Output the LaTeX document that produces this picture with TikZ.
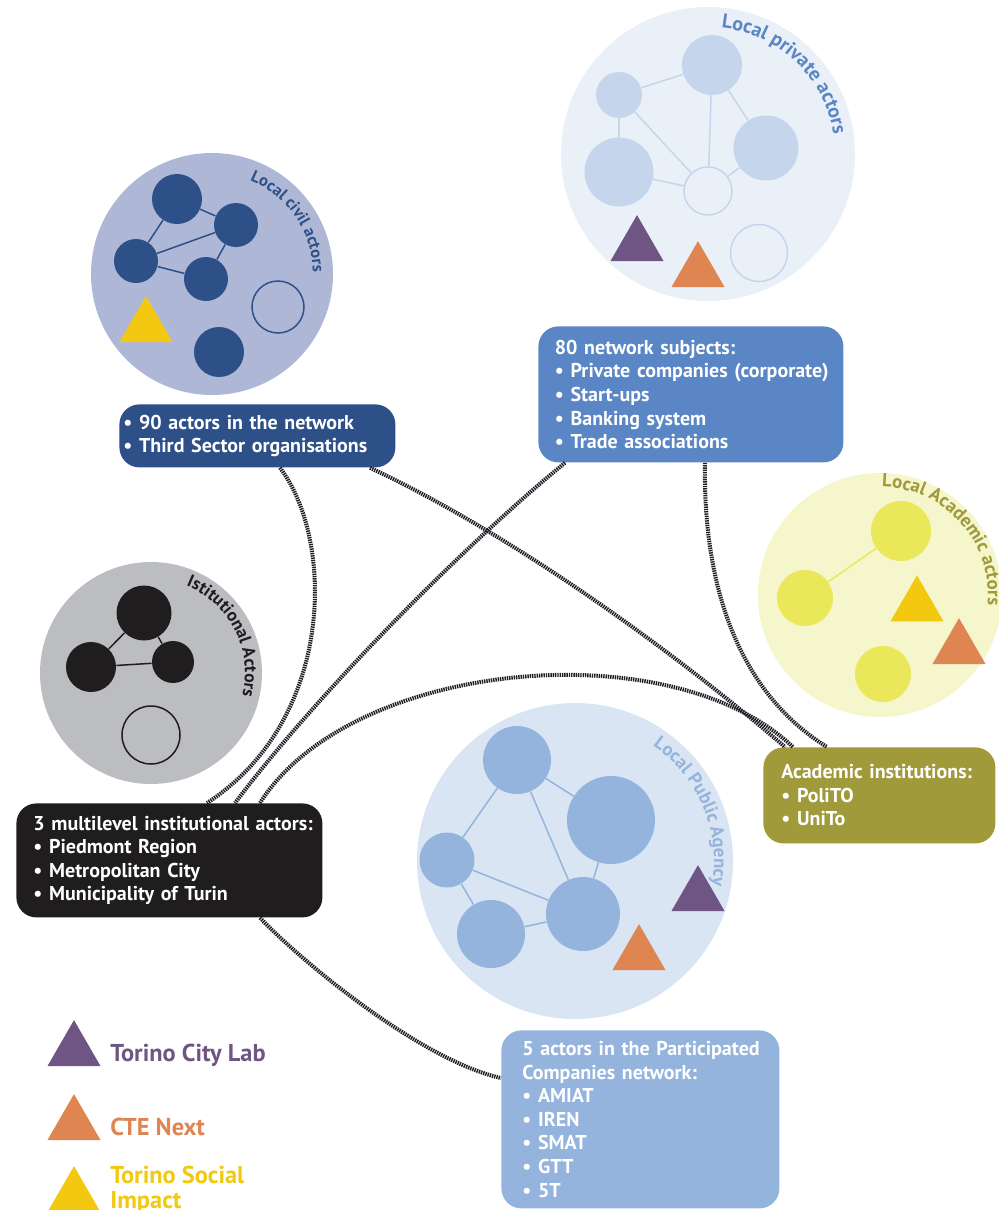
\documentclass[tikz,border=0pt]{standalone}
\usepackage{fontspec}
\setmainfont{PT Sans}
\usetikzlibrary{shapes.geometric,decorations.text}

\definecolor{civildark}{HTML}{2E5089}
\definecolor{civilfill}{HTML}{AEB8D6}
\definecolor{privfill}{HTML}{EAF0F8}
\definecolor{privnode}{HTML}{C5D6EC}
\definecolor{privdark}{HTML}{5A86C5}
\definecolor{acadfill}{HTML}{F6F6CC}
\definecolor{acadnode}{HTML}{EAE85A}
\definecolor{acaddark}{HTML}{A09A3A}
\definecolor{instfill}{HTML}{BCBDC0}
\definecolor{instdark}{HTML}{201D1E}
\definecolor{pubfill}{HTML}{DAE5F3}
\definecolor{pubnode}{HTML}{95B4DD}
\definecolor{labpurple}{HTML}{6E5584}
\definecolor{cteorange}{HTML}{DE8551}
\definecolor{socyellow}{HTML}{F2C811}
\definecolor{linkgray}{HTML}{1E1E26}

\newcommand\boxfont{\fontsize{10}{11.8}\selectfont\bfseries}
\newcommand\legendfont{\fontsize{12.2}{12.5}\selectfont\bfseries}

\tikzset{
  cluster/.style={circle, inner sep=0pt, minimum size=#1pt},
  actor/.style={circle, inner sep=0pt, minimum size=#1pt},
  hollow/.style={circle, inner sep=0pt, minimum size=#1pt, line width=0.75pt},
  marker/.style={regular polygon, regular polygon sides=3, inner sep=0pt, minimum size=30.6pt, fill=#1},
  link/.style={draw=linkgray, line width=2pt, dash pattern=on 0.7pt off 0.45pt},
  infobox/.style={anchor=north west, rounded corners=10pt, align=left, text=white, font=\boxfont, fill=#1}
}

\begin{document}
\begin{tikzpicture}[x=0.5pt, y=-0.5pt]
	\useasboundingbox (0,0) rectangle (999,1210);

	% the five groups of actors
	\draw
		(212,274) node [cluster=121, fill=civilfill] (civ) {}
		(708,154) node [cluster=147, fill=privfill] (priv) {}
		(880,595) node [cluster=122, fill=acadfill] (acad) {}
		(151,673) node [cluster=111, fill=instfill] (inst) {}
		(575,861) node [cluster=158, fill=pubfill] (pub) {}
		;

	% local civil actors
	\draw
		(177,199) node [actor=25, fill=civildark] (c1) {}
		(236,225) node [actor=22, fill=civildark] (c2) {}
		(136,261) node [actor=22, fill=civildark] (c3) {}
		(206,279) node [actor=22, fill=civildark] (c4) {}
		(219,352) node [actor=25, fill=civildark] (c5) {}
		(278,307) node [hollow=26, draw=civildark] (c6) {}
		(146,326.7) node [marker=socyellow] (c7) {}
		;
	\draw[civildark, line width=0.75pt]
		(c1) edge (c2)
		     edge (c3)
		(c3) edge (c2)
		     edge (c4)
		(c4) edge (c2)
		;

	% local private actors
	\draw
		(619,95) node [actor=23, fill=privnode] (p1) {}
		(712,65) node [actor=30, fill=privnode] (p2) {}
		(766,148) node [actor=32.5, fill=privnode] (p3) {}
		(619,172) node [actor=34.5, fill=privnode] (p4) {}
		(708,191) node [hollow=24, draw=privnode] (p5) {}
		(759,253) node [hollow=28.5, draw=privnode] (p6) {}
		(637,245.7) node [marker=labpurple] (p7) {}
		(698,271.7) node [marker=cteorange] (p8) {}
		;
	\draw[privnode, line width=0.75pt]
		(p1) edge (p2)
		     edge (p4)
		     edge (p5)
		(p2) edge (p3)
		     edge (p5)
		(p4) edge (p5)
		(p3) edge (p5)
		;

	% local academic actors
	\draw
		(901,531) node [actor=30, fill=acadnode] (a1) {}
		(805,598) node [actor=28, fill=acadnode] (a2) {}
		(883,674) node [actor=28, fill=acadnode] (a3) {}
		(917,606) node [marker=socyellow] (a4) {}
		(959,648.7) node [marker=cteorange] (a5) {}
		;
	\draw[acadnode, line width=0.75pt] (a1) edge (a2);

	% institutional actors
	\draw
		(144,613) node [actor=27.5, fill=instdark] (i1) {}
		(91,667) node [actor=25, fill=instdark] (i2) {}
		(173,662) node [actor=21, fill=instdark] (i3) {}
		(151,735) node [hollow=29, draw=instdark] (i4) {}
		;
	\draw[instdark, line width=0.75pt]
		(i1) edge (i2)
		     edge (i3)
		(i2) edge (i3)
		;

	% local public agency
	\draw
		(517,760) node [actor=34, fill=pubnode] (u1) {}
		(611,820) node [actor=44, fill=pubnode] (u2) {}
		(447,860) node [actor=27.5, fill=pubnode] (u3) {}
		(491,934) node [actor=34, fill=pubnode] (u4) {}
		(583,914) node [actor=37, fill=pubnode] (u5) {}
		(698,895.7) node [marker=labpurple] (u6) {}
		(639,954.7) node [marker=cteorange] (u7) {}
		;
	\draw[pubnode, line width=0.75pt]
		(u1) edge (u3)
		     edge (u2)
		     edge (u5)
		(u3) edge (u5)
		     edge (u4)
		(u4) edge (u5)
		(u2) edge (u5)
		;

	% curved titles
	\path[decorate, decoration={text along path, text align=left, text color=civildark,
		text={|\fontsize{8.3}{8.3}\selectfont\bfseries|Local civil actors}}]
		(civ) ++(-68:101) arc[start angle=-68, end angle=40, radius=101];
	\path[decorate, decoration={text along path, text align=left, text color=privdark,
		text={|\fontsize{10}{10}\selectfont\bfseries|Local private actors}}]
		(priv) ++(-84:127) arc[start angle=-84, end angle=40, radius=127];
	\path[decorate, decoration={text along path, text align=left, text color=acaddark,
		text={|\fontsize{9.4}{9.4}\selectfont\bfseries|Local Academic actors}}]
		(acad) ++(-89:108) arc[start angle=-89, end angle=60, radius=108];
	\path[decorate, decoration={text along path, text align=left, text color=instdark,
		text={|\fontsize{8.8}{8.8}\selectfont\bfseries|Istitutional Actors}}]
		(inst) ++(-68:94) arc[start angle=-68, end angle=50, radius=94];
	\path[decorate, decoration={text along path, text align=left, text color=pubnode,
		text={|\fontsize{9.4}{9.4}\selectfont\bfseries|Local Public Agency}}]
		(pub) ++(-56:139) arc[start angle=-56, end angle=40, radius=139];

	% boxes
	\node[infobox=civildark, minimum width=138pt, minimum height=31.5pt, text width=134pt, inner xsep=2pt]
		(civbox) at (119,404) {• 90 actors in the network\\• Third Sector organisations};
	\node[infobox=privdark, minimum width=152.5pt, minimum height=68pt, text width=144pt, inner xsep=4.25pt]
		(privbox) at (538,326) {\hspace*{4pt}80 network subjects:\\\hspace*{4pt}• Private companies (corporate)\\\hspace*{4pt}• Start-ups\\\hspace*{4pt}• Banking system\\\hspace*{4pt}• Trade associations};
	\node[infobox=acaddark, minimum width=116pt, minimum height=48pt, text width=106pt, inner xsep=5pt]
		(acadbox) at (763,747) {\hspace*{4pt}Academic institutions:\\\hspace*{4pt}• PoliTO\\\hspace*{4pt}• UniTo};
	\node[infobox=instdark, minimum width=153pt, minimum height=57pt, text width=145pt, inner xsep=4pt]
		(instbox) at (16,803) {\hspace*{4.5pt}3 multilevel institutional actors:\\\hspace*{4.5pt}• Piedmont Region\\\hspace*{4.5pt}• Metropolitan City\\\hspace*{4.5pt}• Municipality of Turin};
	\node[infobox=pubnode, minimum width=139pt, minimum height=89pt, text width=129pt, inner xsep=5pt]
		(pubbox) at (501,1030) {\hspace*{5.5pt}5 actors in the Participated\\\hspace*{5.5pt}Companies network:\\\hspace*{5.5pt}• AMIAT\\\hspace*{5.5pt}• IREN\\\hspace*{5.5pt}• SMAT\\\hspace*{5.5pt}• GTT\\\hspace*{5.5pt}• 5T};

	% links between the groups
	\draw[link] (civbox.south -| 280,0) .. controls (335,540) and (335,720) .. (instbox.north -| 207,0);
	\draw[link] (civbox.south -| 370,0) .. controls (510,533) and (675,652) .. (acadbox.north -| 785,0);
	\draw[link] (privbox.south -| 565,0) .. controls (470,540) and (320,690) .. (instbox.north -| 235,0);
	\draw[link] (instbox.north -| 260,0) .. controls (350,660) and (670,630) .. (acadbox.north -| 793,0);
	\draw[link] (privbox.south -| 705,0) .. controls (703,580) and (735,690) .. (acadbox.north -| 827,0);
	\draw[link] (instbox.south -| 260,0) .. controls (300,960) and (420,1060) .. (pubbox.west |- 0,1078);

	% legend
	\draw
		(74,1050.7) node [marker=labpurple] (tcl) {}
		(74,1124.7) node [marker=cteorange] (cte) {}
		(74,1196.7) node [marker=socyellow] (tsi) {}
		;
	\node[anchor=base west, inner sep=0pt, text=labpurple, font=\legendfont] (tcltext) at (110,1061) {Torino City Lab};
	\node[anchor=base west, inner sep=0pt, text=cteorange, font=\legendfont] (ctetext) at (110,1135) {CTE Next};
	\node[anchor=north west, inner sep=0pt, align=left, text=socyellow, font=\legendfont] (tsitext) at (110,1166) {Torino Social\\Impact};
\end{tikzpicture}
\end{document}
